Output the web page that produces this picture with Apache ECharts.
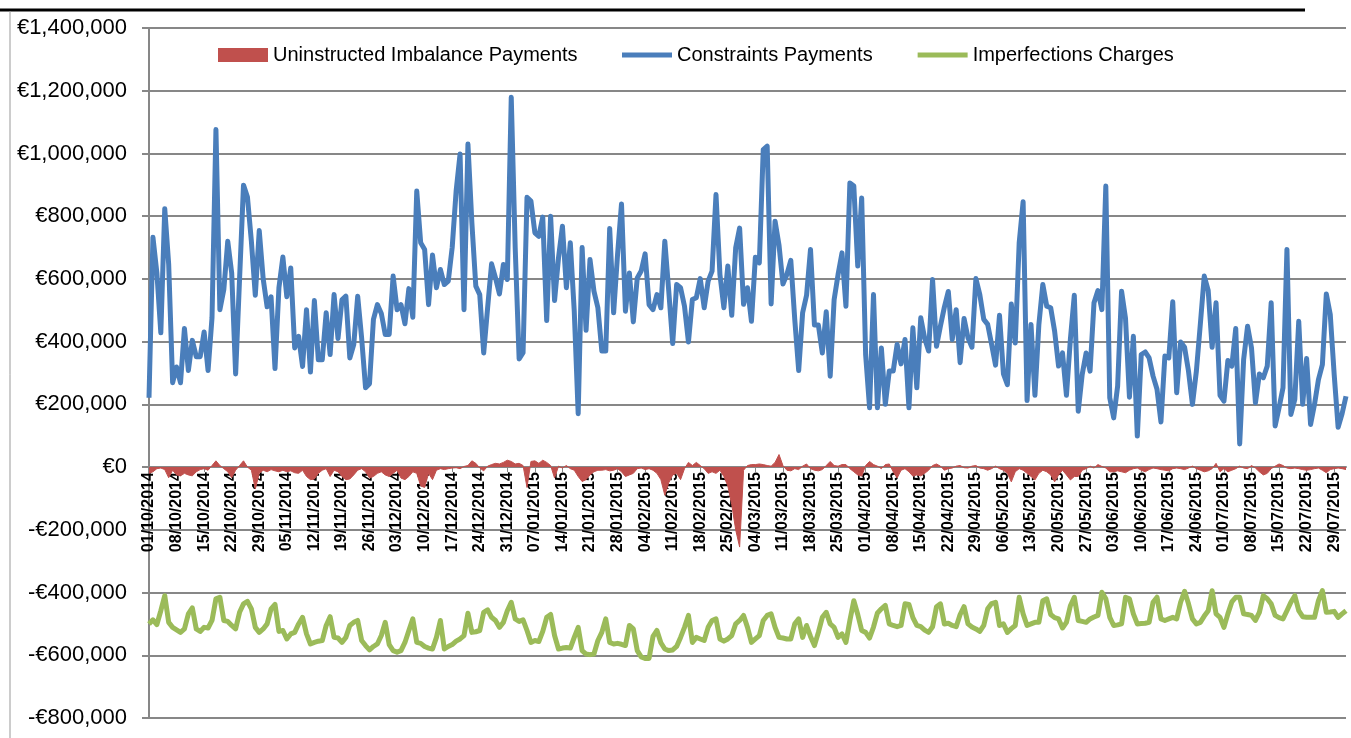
<!DOCTYPE html>
<html>
<head>
<meta charset="utf-8">
<script src="https://cdn.jsdelivr.net/npm/echarts@6/dist/echarts.min.js"></script>
<style>
    html, body { margin: 0; padding: 0; background: #fff; }
    #main { width: 1351px; height: 738px; }
</style>
</head>
<body>
<div id="main"></div>
<script>
// daily values in thousands of euro, 01/10/2014 onwards
var imbalance = [
    -20, -15, -5, -3, -8, -34, -10, -25, -28, -20,
    -25, -28, -15, -8, -5, -10, 5, 20, 5, -5,
    -15, -34, -10, 5, 20, 0, -10, -70, -20, -10,
    -15, -8, -12, -15, -10, -15, -12, -18, -20, -10,
    -30, -40, -38, -20, -10, -5, -30, -10, -15, -30,
    -40, -38, -25, -10, -5, -15, -35, -30, -20, -15,
    -25, -30, -20, -10, -35, -40, -30, -15, -20, -60,
    -65, -20, -40, -10, -5, -8, -5, -3, -2, -5,
    2, 5, 20, 12, -3, -12, 3, 8, 12, 10,
    15, 22, 18, 10, 12, 5, -65, 18, 20, 12,
    22, 15, 5, -35, 3, -3, 5, -5, -10, -30,
    -46, -40, -25, -15, -10, -10, -8, -12, -10, -5,
    -15, -30, -25, -20, -5, -3, -8, -5, -10, -20,
    -40, -90, -50, -25, -20, -40, -5, 15, 5, 15,
    5, -5, -20, -15, -20, -10, -30, -60, -120, -200,
    -255, -10, 5, 8, 8, 10, 8, 5, 3, 15,
    40, 5, -10, -12, -5, -8, 3, 10, -5, -10,
    -12, -8, 5, 18, 5, 3, 8, 8, -5, -15,
    -25, -29, 5, 18, 8, 3, -5, 8, 10, -15,
    -35, -10, -5, -15, -29, -25, -28, -20, -10, 5,
    10, 3, -10, -5, -3, 3, 5, -2, -3, 3,
    5, -3, -5, -10, -5, 3, -5, -10, -20, -47,
    -15, -5, -10, -20, -30, -41, -20, -10, -15, -25,
    -47, -25, -10, -25, -41, -30, -30, -10, -5, 3,
    -3, 8, 2, -3, -15, -15, -12, -15, -18, -10,
    -5, -3, -10, -15, -8, -3, -5, -8, -10, -12,
    -5, -3, -5, -8, -3, 3, -5, -10, -15, -12,
    -5, 12, -15, -5, -15, -10, -5, 3, -3, -5,
    5, -3, -15, -25, -20, -5, 3, 10, 5, -3,
    -5, -3, -5, -8, -10, -8, -5, -3, -10, -18,
    -8, -5, -3, -5, -8
];

var constraints = [
    221, 733, 619, 428, 824, 646, 269, 319, 269, 442,
    308, 404, 352, 352, 431, 308, 476, 1076, 502, 566,
    720, 619, 297, 600, 899, 861, 720, 548, 754, 600,
    511, 543, 314, 572, 670, 543, 635, 380, 417, 321,
    502, 303, 531, 342, 342, 492, 359, 550, 410, 533,
    545, 348, 391, 545, 412, 253, 266, 471, 518, 490,
    423, 423, 609, 502, 518, 457, 569, 478, 880, 715,
    694, 518, 676, 572, 630, 582, 593, 700, 880, 998,
    502, 1030, 779, 577, 550, 364, 508, 648, 603, 552,
    646, 598, 1179, 700, 345, 365, 860, 848, 747, 736,
    797, 467, 800, 531, 667, 768, 572, 715, 497, 170,
    700, 436, 662, 561, 508, 370, 370, 761, 492, 678,
    839, 497, 619, 463, 603, 625, 680, 518, 502, 550,
    508, 720, 561, 394, 582, 572, 513, 399, 534, 540,
    601, 508, 593, 625, 869, 614, 508, 641, 484, 699,
    762, 519, 572, 465, 669, 651, 1012, 1023, 520, 784,
    708, 584, 614, 659, 471, 308, 492, 548, 694, 453,
    453, 364, 495, 290, 534, 614, 683, 513, 906, 896,
    641, 858, 359, 189, 550, 189, 380, 200, 306, 306,
    391, 329, 407, 189, 444, 253, 476, 410, 370, 598,
    385, 450, 510, 560, 407, 502, 333, 474, 412, 382,
    601, 550, 471, 455, 391, 325, 484, 297, 263, 520,
    396, 715, 846, 212, 455, 229, 455, 582, 513, 508,
    433, 322, 364, 229, 407, 548, 178, 295, 364, 306,
    524, 563, 502, 896, 221, 157, 258, 561, 474, 223,
    417, 99, 359, 367, 348, 290, 248, 144, 354, 348,
    527, 237, 399, 382, 306, 200, 306, 455, 609, 563,
    382, 524, 229, 210, 340, 322, 442, 74, 343, 449,
    380, 205, 297, 285, 322, 524, 131, 189, 253, 694,
    168, 216, 465, 200, 346, 136, 200, 279, 327, 552,
    487, 295, 127, 170, 226
];

var imperfections = [
    -500, -487, -502, -458, -410, -495, -511, -519, -527, -516,
    -468, -449, -516, -524, -511, -513, -489, -420, -415, -489,
    -492, -505, -516, -463, -436, -428, -452, -511, -527, -516,
    -500, -452, -438, -524, -521, -548, -532, -527, -500, -479,
    -532, -564, -559, -555, -553, -505, -477, -543, -545, -559,
    -543, -505, -495, -489, -553, -569, -583, -572, -564, -537,
    -495, -566, -585, -590, -585, -559, -521, -484, -559, -562,
    -572, -577, -580, -543, -489, -580, -572, -566, -555, -548,
    -537, -466, -527, -525, -521, -463, -455, -479, -489, -511,
    -495, -458, -431, -484, -492, -487, -521, -559, -553, -556,
    -524, -479, -470, -537, -580, -577, -575, -577, -543, -511,
    -585, -596, -598, -596, -553, -527, -484, -559, -564, -562,
    -565, -569, -505, -516, -585, -605, -610, -610, -540, -521,
    -560, -580, -585, -583, -572, -543, -511, -473, -559, -543,
    -548, -553, -511, -489, -484, -548, -555, -548, -537, -500,
    -489, -473, -511, -559, -548, -537, -489, -473, -468, -511,
    -543, -545, -548, -548, -500, -484, -543, -505, -540, -569,
    -527, -479, -463, -500, -511, -543, -532, -559, -489, -426,
    -470, -521, -527, -545, -510, -465, -452, -441, -500, -505,
    -509, -505, -436, -438, -480, -505, -509, -520, -527, -509,
    -445, -436, -500, -498, -505, -509, -470, -445, -500, -510,
    -516, -524, -505, -452, -435, -431, -505, -500, -527, -515,
    -505, -415, -468, -505, -500, -495, -495, -426, -420, -470,
    -480, -484, -513, -495, -442, -415, -489, -492, -495, -484,
    -478, -473, -399, -420, -479, -505, -503, -500, -415, -420,
    -468, -500, -499, -498, -495, -431, -415, -484, -489, -484,
    -479, -484, -431, -396, -436, -484, -500, -495, -475, -458,
    -394, -468, -479, -511, -468, -430, -415, -415, -468, -470,
    -473, -489, -463, -410, -420, -436, -473, -480, -484, -458,
    -431, -410, -458, -477, -479, -479, -479, -426, -394, -463,
    -462, -460, -479, -468, -458
];

var seriesNames = ['Uninstructed Imbalance Payments', 'Constraints Payments', 'Imperfections Charges'];

// dd/mm/yyyy labels, one per day
var days = [];
var d0 = new Date(2014, 9, 1);
for (var i = 0; i < constraints.length; i++) {
    var d = new Date(d0.getFullYear(), d0.getMonth(), d0.getDate() + i);
    var dd = ('0' + d.getDate()).slice(-2);
    var mm = ('0' + (d.getMonth() + 1)).slice(-2);
    days.push(dd + '/' + mm + '/' + d.getFullYear());
}

function toEuro(arr) {
    return arr.map(function (v) { return v * 1000; });
}

function euroLabel(v) {
    var s = Math.abs(v).toString().replace(/\B(?=(\d{3})+(?!\d))/g, ',');
    return (v < 0 ? '-€' : '€') + s;
}

var myChart = echarts.init(document.getElementById('main'));
var grey = '#878787';
var gridTop = 28, gridBottom = 20;
var yMin = -800000, yMax = 1400000;
// the category axis sits on the zero line
var plotH = 738 - gridTop - gridBottom;
var zeroOffset = -plotH * (0 - yMin) / (yMax - yMin);

var option = {
    animation: false,
    textStyle: { fontFamily: 'Liberation Sans' },
    grid: { left: 149, right: 5, top: gridTop, bottom: gridBottom, outerBoundsMode: 'none' },
    legend: [
        {
            left: 213,
            top: 40,
            itemWidth: 50,
            itemHeight: 14,
            textStyle: { fontSize: 20, color: '#000' },
            data: [{ name: seriesNames[0], icon: 'rect' }]
        },
        {
            left: 617,
            top: 40,
            itemWidth: 50,
            itemHeight: 5,
            itemGap: 45,
            textStyle: { fontSize: 20, color: '#000' },
            data: [
                { name: seriesNames[1], icon: 'rect' },
                { name: seriesNames[2], icon: 'rect' }
            ]
        }
    ],
    graphic: [
        {
            type: 'line',
            shape: { x1: 0, y1: 10, x2: 1305, y2: 10 },
            style: { stroke: '#000', lineWidth: 3 }
        },
        {
            type: 'line',
            shape: { x1: 10, y1: 11, x2: 10, y2: 738 },
            style: { stroke: '#999', lineWidth: 1 }
        }
    ],
    xAxis: {
        type: 'category',
        data: days,
        boundaryGap: false,
        position: 'bottom',
        offset: zeroOffset,
        axisLine: { onZero: false, lineStyle: { color: grey, width: 2 } },
        axisTick: { show: true, interval: 6, length: 5, lineStyle: { color: grey } },
        axisLabel: {
            interval: 6,
            rotate: 90,
            margin: 5,
            fontSize: 16,
            fontWeight: 'bold',
            color: '#000'
        },
        splitLine: { show: false }
    },
    yAxis: {
        type: 'value',
        min: yMin,
        max: yMax,
        interval: 200000,
        axisLine: { show: true, lineStyle: { color: grey, width: 2 } },
        axisTick: { show: true, length: 7, lineStyle: { color: grey, width: 2 } },
        axisLabel: {
            margin: 22,
            fontSize: 22,
            color: '#000',
            formatter: euroLabel
        },
        splitLine: { lineStyle: { color: grey, width: 2 } }
    },
    series: [
        {
            name: seriesNames[0],
            type: 'line',
            data: toEuro(imbalance),
            symbol: 'none',
            itemStyle: { color: '#C0504D' },
            lineStyle: { width: 1, color: '#C0504D' },
            areaStyle: { color: '#C0504D', opacity: 1 },
            z: 2
        },
        {
            name: seriesNames[1],
            type: 'line',
            data: toEuro(constraints),
            symbol: 'none',
            itemStyle: { color: '#4A7EBB' },
            lineStyle: { width: 5, color: '#4A7EBB', join: 'round' },
            z: 3
        },
        {
            name: seriesNames[2],
            type: 'line',
            data: toEuro(imperfections),
            symbol: 'none',
            itemStyle: { color: '#9BBB59' },
            lineStyle: { width: 5, color: '#9BBB59', join: 'round' },
            z: 4
        }
    ]
};
myChart.setOption(option);
</script>
</body>
</html>
